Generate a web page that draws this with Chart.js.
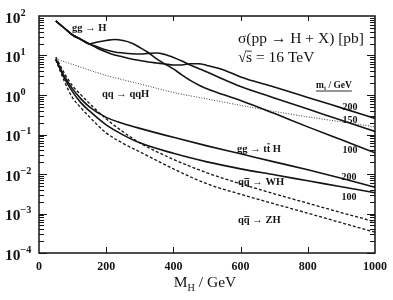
<!DOCTYPE html>
<html><head><meta charset="utf-8">
<script src="https://cdn.jsdelivr.net/npm/chart.js@4"></script>
<style>html,body{margin:0;padding:0;background:#fff}canvas{display:block}</style>
</head><body>
<canvas id="c" width="393" height="300"></canvas>
<script>
// ---- data (cross sections in pb, Higgs mass in GeV) ----
const ggH_M = [50, 75, 100, 125, 150, 175, 200, 225, 250, 275, 300, 325, 350, 375, 400, 425, 450, 475, 500, 550, 600, 700, 800, 900, 1000];
const ggH_mt100 = [74.8, 49.7, 33.1, 25.5, 19.6, 22.0, 24.0, 25.5, 24.0, 20.8, 16.0, 11.9, 8.18, 6.11, 4.57, 3.22, 2.34, 1.80, 1.43, 1.01, 0.730, 0.343, 0.156, 0.0732, 0.0344];
const ggH_mt150 = [74.8, 49.7, 33.1, 25.5, 19.6, 16.4, 13.8, 12.3, 11.6, 11.1, 10.9, 11.3, 11.6, 10.6, 8.93, 7.28, 5.77, 4.71, 3.84, 2.48, 1.65, 0.845, 0.445, 0.228, 0.120];
const ggH_mt200 = [74.8, 49.7, 33.1, 25.5, 19.6, 15.1, 12.3, 10.3, 9.19, 8.18, 7.50, 6.87, 6.48, 6.11, 5.77, 5.77, 6.19, 6.19, 5.60, 4.31, 2.87, 1.60, 0.870, 0.472, 0.256];

const qqH_M = [50, 100, 150, 200, 300, 400, 500, 600, 700, 800, 900, 1000];
const qqH = [8.18, 5.94, 4.26, 3.13, 1.91, 1.16, 0.797, 0.546, 0.385, 0.279, 0.209, 0.156];

const low_M = [50, 75, 100, 125, 150, 200, 250, 300, 400, 500, 600, 700, 800, 900, 1000];
const ttH_mt200 = [8.18, 3.04, 1.43, 0.797, 0.500, 0.271, 0.191, 0.143, 0.0847, 0.0516, 0.0324, 0.0203, 0.0128, 0.00778, 0.00461];
const ttH_mt100 = [8.18, 2.71, 1.20, 0.631, 0.396, 0.175, 0.098, 0.0615, 0.0334, 0.0203, 0.0135, 0.00954, 0.00673, 0.00475, 0.00335];
const WH = [9.19, 3.62, 1.70, 1.006, 0.613, 0.249, 0.117, 0.0615, 0.0235, 0.0107, 0.00565, 0.00316, 0.00182, 0.00105, 0.000618];
const ZH = [7.72, 2.27, 0.845, 0.472, 0.279, 0.110, 0.0597, 0.0364, 0.0135, 0.00565, 0.00307, 0.00176, 0.00102, 0.000583, 0.000336];

const xTickValues = [0, 200, 400, 600, 800, 1000];
const yTickExponents = [-4, -3, -2, -1, 0, 1, 2];

// ---- helpers ----
const pts = (xs, ys) => xs.map((x, i) => ({ x: x, y: ys[i] }));
const INK = '#141414';
const FAM = '"Liberation Serif","DejaVu Serif",serif';

function solid(label, xs, ys) {
  return { label, data: pts(xs, ys), borderColor: INK, borderWidth: 1.6, fill: false };
}

function rich(ctx, segs, x, y, size, opts) {
  opts = opts || {};
  const fontFor = (s) => {
    const fs = (s.sub || s.sup) ? size * 0.66 : size;
    return (opts.bold ? 'bold ' : '') + fs + 'px ' + FAM;
  };
  let total = 0;
  for (const s of segs) { ctx.font = fontFor(s); total += ctx.measureText(s.t).width; }
  let cx = opts.align === 'center' ? x - total / 2 : (opts.align === 'right' ? x - total : x);
  const x0 = cx;
  ctx.fillStyle = INK;
  ctx.strokeStyle = INK;
  ctx.textBaseline = 'alphabetic';
  ctx.textAlign = 'left';
  for (const s of segs) {
    ctx.font = fontFor(s);
    const dy = s.sub ? size * 0.25 : (s.sup ? -size * 0.42 : 0);
    ctx.fillText(s.t, cx, y + dy);
    const w = ctx.measureText(s.t).width;
    if (s.bar) {
      ctx.lineWidth = 0.9;
      ctx.beginPath();
      ctx.moveTo(cx + 0.5, y - size * (s.barH || 0.72));
      ctx.lineTo(cx + w - 0.3, y - size * (s.barH || 0.72));
      ctx.stroke();
    }
    cx += w;
  }
  if (opts.underline) {
    ctx.lineWidth = 0.9;
    ctx.beginPath();
    ctx.moveTo(x0, y + 3);
    ctx.lineTo(cx, y + 3);
    ctx.stroke();
  }
  return total;
}

const decor = {
  id: 'decor',
  afterDraw(chart) {
    const ctx = chart.ctx;
    const a = chart.chartArea;
    const xs = chart.scales.x, ys = chart.scales.y;
    ctx.save();
    ctx.strokeStyle = INK;
    // frame
    ctx.lineWidth = 1.5;
    ctx.strokeRect(a.left, a.top, a.right - a.left, a.bottom - a.top);
    // y ticks (log minor ticks both sides)
    ctx.lineWidth = 1;
    for (let e = -4; e <= 1; e++) {
      for (let k = 1; k <= 9; k++) {
        const py = Math.round(ys.getPixelForValue(k * Math.pow(10, e))) + 0.5;
        const len = k === 1 ? 8 : 5;
        ctx.beginPath();
        ctx.moveTo(a.left, py); ctx.lineTo(a.left + len, py);
        ctx.moveTo(a.right, py); ctx.lineTo(a.right - len, py);
        ctx.stroke();
      }
    }
    // x ticks
    for (const v of xTickValues) {
      if (v === 0 || v === 1000) continue;
      const px = Math.round(xs.getPixelForValue(v)) + 0.5;
      ctx.beginPath();
      ctx.moveTo(px, a.bottom); ctx.lineTo(px, a.bottom - 6);
      ctx.moveTo(px, a.top); ctx.lineTo(px, a.top + 5);
      ctx.stroke();
    }
    // x tick labels
    ctx.fillStyle = INK;
    ctx.font = 'bold 12px ' + FAM;
    ctx.textAlign = 'center';
    ctx.textBaseline = 'alphabetic';
    for (const v of xTickValues) {
      ctx.fillText(String(v), xs.getPixelForValue(v), 270);
    }
    // y tick labels
    for (const e of yTickExponents) {
      const py = ys.getPixelForValue(Math.pow(10, e));
      rich(ctx, [{ t: '10' }, { t: (e < 0 ? '\u2212' : '') + Math.abs(e), sup: true }], 5, py + 6.5, 15.5, { bold: true });
    }
    // axis title
    rich(ctx, [{ t: 'M' }, { t: 'H', sub: true }, { t: ' / GeV' }], 205, 287, 15.5, { align: 'center' });
    // process labels
    rich(ctx, [{ t: '\u03c3(pp \u2192 H + X) [pb]' }], 238, 43, 15.5);
    const wr = rich(ctx, [{ t: '\u221a' }], 238, 62, 15.5);
    rich(ctx, [{ t: 's', bar: true, barH: 0.7 }, { t: ' = 16 TeV' }], 238 + wr - 0.5, 62, 15.5);
    rich(ctx, [{ t: 'gg \u2192 H' }], 72, 31, 10.5, { bold: true });
    rich(ctx, [{ t: 'qq \u2192 qqH' }], 102, 97, 10.5, { bold: true });
    rich(ctx, [{ t: 'm' }, { t: 't', sub: true }, { t: ' / GeV' }], 316, 88, 9.5, { bold: true, underline: true });
    rich(ctx, [{ t: '200' }], 350, 110, 10, { bold: true, align: 'center' });
    rich(ctx, [{ t: '150' }], 350, 123, 10, { bold: true, align: 'center' });
    rich(ctx, [{ t: '100' }], 350, 153, 10, { bold: true, align: 'center' });
    rich(ctx, [{ t: 'gg \u2192 t' }, { t: 't', bar: true, barH: 0.78 }, { t: ' H' }], 237, 152, 10.5, { bold: true });
    rich(ctx, [{ t: '200' }], 349, 180, 10, { bold: true, align: 'center' });
    rich(ctx, [{ t: '100' }], 349, 200, 10, { bold: true, align: 'center' });
    rich(ctx, [{ t: 'q' }, { t: 'q', bar: true, barH: 0.62 }, { t: ' \u2192 WH' }], 238, 185, 10.5, { bold: true });
    rich(ctx, [{ t: 'q' }, { t: 'q', bar: true, barH: 0.62 }, { t: ' \u2192 ZH' }], 238, 223, 10.5, { bold: true });
    ctx.restore();
  }
};

new Chart(document.getElementById('c').getContext('2d'), {
  type: 'line',
  data: {
    datasets: [
      solid('gg\u2192H, mt=100', ggH_M, ggH_mt100),
      solid('gg\u2192H, mt=150', ggH_M, ggH_mt150),
      solid('gg\u2192H, mt=200', ggH_M, ggH_mt200),
      { label: 'qq\u2192qqH', data: pts(qqH_M, qqH), borderColor: '#3a3a3a', borderWidth: 1, borderDash: [1, 1.6], fill: false },
      solid('gg\u2192ttH, mt=200', low_M, ttH_mt200),
      solid('gg\u2192ttH, mt=100', low_M, ttH_mt100),
      { label: 'qq\u0304\u2192WH', data: pts(low_M, WH), borderColor: INK, borderWidth: 1.3, borderDash: [3, 2], fill: false },
      { label: 'qq\u0304\u2192ZH', data: pts(low_M, ZH), borderColor: INK, borderWidth: 1.3, borderDash: [3, 2], fill: false }
    ]
  },
  options: {
    responsive: false,
    animation: false,
    layout: { padding: { left: 39, right: 18, top: 16, bottom: 47 } },
    plugins: { legend: { display: false }, tooltip: { enabled: false } },
    elements: { point: { radius: 0 }, line: { cubicInterpolationMode: 'monotone' } },
    scales: {
      x: { type: 'linear', min: 0, max: 1000, display: false },
      y: { type: 'logarithmic', min: 1e-4, max: 100, display: false }
    }
  },
  plugins: [decor]
});
</script>
</body></html>
